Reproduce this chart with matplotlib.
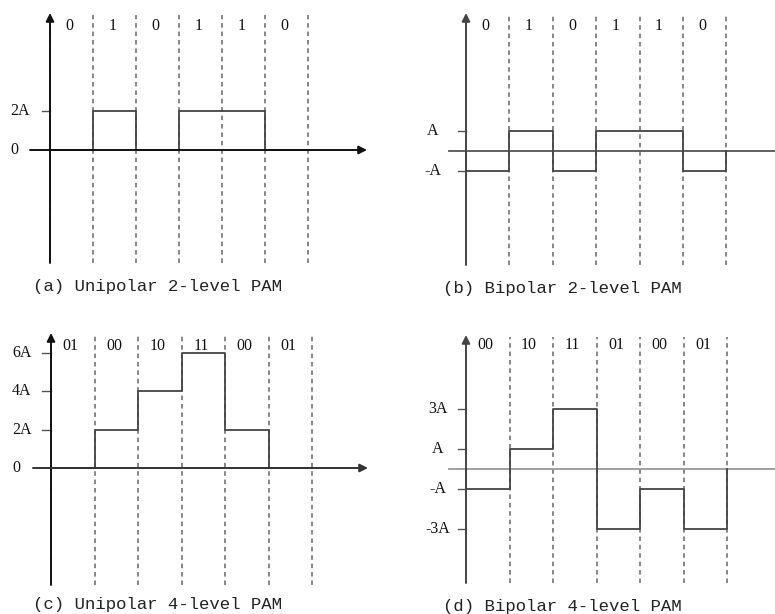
import numpy as np
import matplotlib
matplotlib.use('Agg')
import matplotlib.pyplot as plt

# bits in each symbol slot and the signal level of each slot (units of A)
bits_a = ['0', '1', '0', '1', '1', '0']
levels_a = [0, 2, 0, 2, 2, 0]
ticks_a = [0, 2]
ticklabels_a = ['0', '2A']

bits_b = ['0', '1', '0', '1', '1', '0']
levels_b = [-1, 1, -1, 1, 1, -1]
ticks_b = [1, -1]
ticklabels_b = ['A', '-A']

bits_c = ['01', '00', '10', '11', '00', '01']
levels_c = [0, 2, 4, 6, 2, 0]
ticks_c = [0, 2, 4, 6]
ticklabels_c = ['0', '2A', '4A', '6A']

bits_d = ['00', '10', '11', '01', '00', '01']
levels_d = [-1, 1, 3, -3, -1, -3]
ticks_d = [3, 1, -1, -3]
ticklabels_d = ['3A', 'A', '-A', '-3A']

captions = ['(a) Unipolar 2-level PAM', '(b) Bipolar 2-level PAM',
            '(c) Unipolar 4-level PAM', '(d) Bipolar 4-level PAM']

W, H = 775, 614

# pixel layout of each panel
layouts = [
    dict(box=(0, 0, 388, 300), origin=(50, 150), scale=(43, 19.5), ytop=13, ybot=263,
         xaxis=(30, 367), arrow=True, k0=0, tick_x0=42, lab_x=10, lab_ha='left',
         bit_y=26, cap=(33, 286), axcol='#111', zerocol='#111'),
    dict(box=(388, 0, 387, 300), origin=(466, 151), scale=(43.4, 20), ytop=13, ybot=265,
         xaxis=(449, 775), arrow=False, k0=1, tick_x0=458, lab_x=433, lab_ha='center',
         bit_y=26, cap=(443, 288), axcol='#444', zerocol='#555'),
    dict(box=(0, 300, 388, 314), origin=(51, 468), scale=(43.5, 19.2), ytop=333, ybot=585,
         xaxis=(33, 368), arrow=True, k0=0, tick_x0=42, lab_x=12, lab_ha='left',
         bit_y=346, cap=(33, 605), axcol='#111', zerocol='#333'),
    dict(box=(388, 300, 387, 314), origin=(466, 469), scale=(43.5, 20), ytop=335, ybot=583,
         xaxis=(449, 775), arrow=False, k0=1, tick_x0=458, lab_x=438, lab_ha='center',
         bit_y=345, cap=(443, 606), axcol='#444', zerocol='#999'),
]


def draw_panel(fig, bits, levels, ticks, ticklabels, caption, lay):
    L, T, w, h = lay['box']
    ox, oy = lay['origin']
    sx, sy = lay['scale']
    ax = fig.add_axes([L / W, 1 - (T + h) / H, w / W, h / H])
    ax.set_xlim((L - ox) / sx, (L + w - ox) / sx)
    ax.set_ylim((oy - T - h) / sy, (oy - T) / sy)
    ax.axis('off')

    px = lambda x: (x - ox) / sx
    py = lambda y: (oy - y) / sy
    ytop, ybot = py(lay['ytop']), py(lay['ybot'])

    # slot boundaries
    ax.vlines(np.arange(lay['k0'], len(bits) + 1), ybot, py(lay['ytop'] + 2),
              colors='#666', linestyles=(0, (3, 2.5)), lw=1.1)

    # axes with arrows
    arrow = dict(arrowstyle='-|>', color=lay['axcol'], lw=1.4, mutation_scale=12,
                 shrinkA=0, shrinkB=0)
    ax.annotate('', xy=(0, ytop), xytext=(0, ybot), arrowprops=arrow)
    x0, x1 = px(lay['xaxis'][0]), px(lay['xaxis'][1])
    if lay['arrow']:
        ax.annotate('', xy=(x1, 0), xytext=(x0, 0),
                    arrowprops=dict(arrow, color=lay['zerocol']))
    else:
        ax.plot([x0, x1], [0, 0], color=lay['zerocol'], lw=1.3)

    # level ticks and labels
    for t, lab in zip(ticks, ticklabels):
        if t != 0:
            ax.plot([px(lay['tick_x0']), 0], [t, t], color='#555', lw=1)
        ax.text(px(lay['lab_x']), t, lab, ha=lay['lab_ha'], va='center',
                fontsize=11.5, family='Liberation Serif', color='#111')

    # PAM waveform
    xs = np.repeat(np.arange(len(levels) + 1), 2)
    ys = np.concatenate([[0], np.repeat(levels, 2), [0]])
    ax.plot(xs, ys, color='#444', lw=1.3)

    for i, b in enumerate(bits):
        ax.text(i + 0.45, py(lay['bit_y']), b, ha='center', va='center',
                fontsize=11.5, family='Liberation Serif', color='#111')

    ax.text(px(lay['cap'][0]), py(lay['cap'][1]), caption, ha='left', va='center',
            fontsize=12.5, family='Liberation Mono', color='#222')


def main():
    fig = plt.figure(figsize=(W / 100, H / 100), dpi=100)
    panels = [(bits_a, levels_a, ticks_a, ticklabels_a),
              (bits_b, levels_b, ticks_b, ticklabels_b),
              (bits_c, levels_c, ticks_c, ticklabels_c),
              (bits_d, levels_d, ticks_d, ticklabels_d)]
    for (bits, levels, ticks, labels), cap, lay in zip(panels, captions, layouts):
        draw_panel(fig, bits, levels, ticks, labels, cap, lay)
    fig.savefig('out.png', dpi=100)


if __name__ == '__main__':
    main()
